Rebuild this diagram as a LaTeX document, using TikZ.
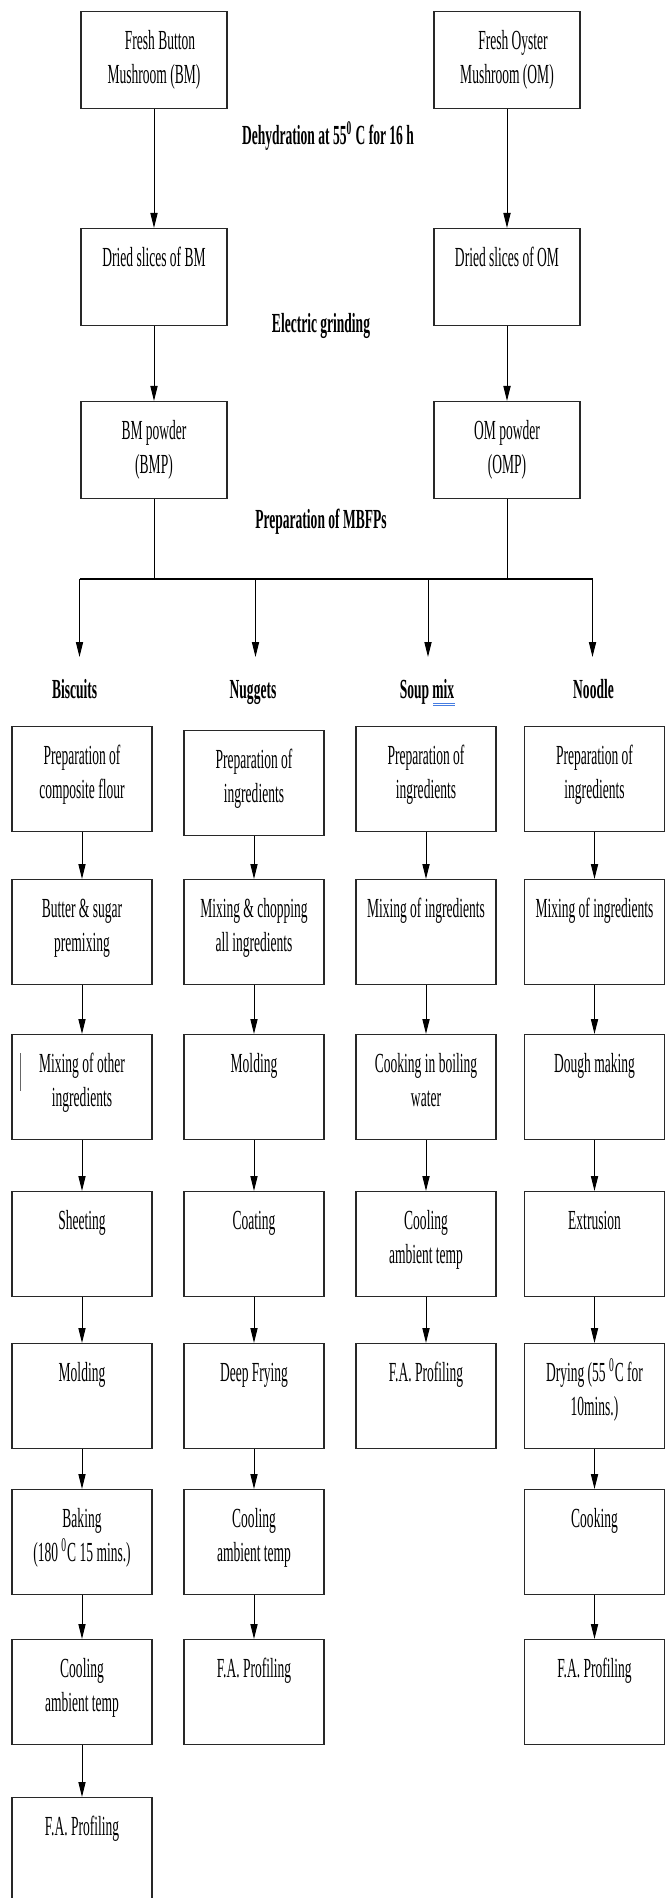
\documentclass[tikz,border=0pt]{standalone}
\usepackage{fontspec}
\setmainfont{Liberation Serif}[FakeStretch=0.49]
\usetikzlibrary{arrows.meta}

\definecolor{boxline}{RGB}{40,40,40}
\definecolor{spellblue}{RGB}{70,125,225}

\tikzset{
  stepbox/.style={draw=boxline, line width=0.65pt, anchor=north, inner sep=0pt,
    text width=70pt, align=flush center, text height=19pt, text depth=33.5pt,
    font=\fontsize{13.8pt}{17pt}\selectfont},
  topbox/.style={stepbox, text width=73pt, text depth=29.5pt},
  stagelabel/.style={anchor=base, font=\fontsize{13.8pt}{17pt}\selectfont\bfseries},
  flow/.style={line width=0.5pt, -{Triangle[length=7.5pt, width=3.6pt]}},
}

\begin{document}
\begin{tikzpicture}[x=0.5pt, y=-0.5pt]
\useasboundingbox (0,0) rectangle (665,1898);
% raw mushrooms to powder
\node[topbox] (bm)  at (154,11)  {\hspace*{6pt}Fresh Button\\Mushroom (BM)};
\node[topbox] (om)  at (507,11)  {\hspace*{6pt}Fresh Oyster\\Mushroom (OM)};
\node[topbox] (bmd) at (154,228) {Dried slices of BM};
\node[topbox] (omd) at (507,228) {Dried slices of OM};
\node[topbox] (bmp) at (154,401) {BM powder\\(BMP)};
\node[topbox] (omp) at (507,401) {OM powder\\(OMP)};
\draw[flow] (bm) -- (bmd);
\draw[flow] (om) -- (omd);
\draw[flow] (bmd) -- (bmp);
\draw[flow] (omd) -- (omp);
\node[stagelabel] (dehyd) at (328,145) {Dehydration at 55\textsuperscript{0} C for 16 h};
\node[stagelabel] (grind) at (321,333) {Electric grinding};
\node[stagelabel] (mbfp)  at (321,529) {Preparation of MBFPs};

% split to the four products
\coordinate (busl) at (79.5,579);
\coordinate (busr) at (592.5,579);
\draw[line width=0.5pt] (bmp.south) -- (bmp.south |- busl);
\draw[line width=0.5pt] (omp.south) -- (omp.south |- busl);
\draw[line width=0.6pt] (busl) -- (busr);
\foreach \n/\x/\lx/\txt in {bis/79.5/74.6/Biscuits, nug/255.5/253/Nuggets,
                            soup/428/427/Soup mix, noo/592.5/593.5/Noodle}{
 \coordinate (\n0) at (\x,579);
 \coordinate (\n1) at (\x,657);
 \draw[flow] (\n0) -- (\n1);
 \node[stagelabel] (\n) at (\lx,698) {\txt};
}
\draw[spellblue, line width=0.5pt] (433.4,703) -- (454.6,703) (433.4,705.8) -- (454.6,705.8);

% biscuits
\foreach \y/\txt [count=\i] in {726/{Preparation of\\composite flour},
  879/{Butter \& sugar\\premixing}, 1034/{Mixing of other\\ingredients},
  1191/Sheeting, 1343/Molding, 1489/{Baking\\(180 \textsuperscript{0}C 15 mins.)},
  1639/{Cooling\hspace*{10pt}\\ambient temp\hspace*{10pt}}, 1797/{F.A. Profiling}}
 \node[stepbox] (a\i) at (82,\y) {\txt};
\foreach \i [evaluate=\i as \j using int(\i+1)] in {1,...,7}
 \draw[flow] (a\i) -- (a\j);
\draw[black!60, line width=0.6pt] (20.5,1053) -- (20.5,1091);

% nuggets
\foreach \y/\txt [count=\i] in {730/{Preparation of\\ingredients},
  879/{Mixing \& chopping\\all ingredients}, 1034/Molding, 1191/Coating,
  1343/{Deep Frying}, 1489/{Cooling\hspace*{8pt}\\ambient temp\hspace*{8pt}},
  1639/{F.A. Profiling}}
 \node[stepbox] (b\i) at (254,\y) {\txt};
\foreach \i [evaluate=\i as \j using int(\i+1)] in {1,...,6}
 \draw[flow] (b\i) -- (b\j);

% soup mix
\foreach \y/\txt [count=\i] in {726/{Preparation of\\ingredients},
  879/{Mixing of ingredients}, 1034/{Cooking in boiling\\water},
  1191/{Cooling\hspace*{10pt}\\ambient temp\hspace*{10pt}}, 1343/{F.A. Profiling}}
 \node[stepbox] (c\i) at (426,\y) {\txt};
\foreach \i [evaluate=\i as \j using int(\i+1)] in {1,...,4}
 \draw[flow] (c\i) -- (c\j);

% noodle
\foreach \y/\txt [count=\i] in {726/{Preparation of\\ingredients},
  879/{Mixing of ingredients}, 1034/{Dough making}, 1191/Extrusion,
  1343/{Drying (55 \textsuperscript{0}C for\\10mins.)}, 1489/Cooking,
  1639/{F.A. Profiling}}
 \node[stepbox] (d\i) at (594.5,\y) {\txt};
\foreach \i [evaluate=\i as \j using int(\i+1)] in {1,...,6}
 \draw[flow] (d\i) -- (d\j);
\end{tikzpicture}
\end{document}
